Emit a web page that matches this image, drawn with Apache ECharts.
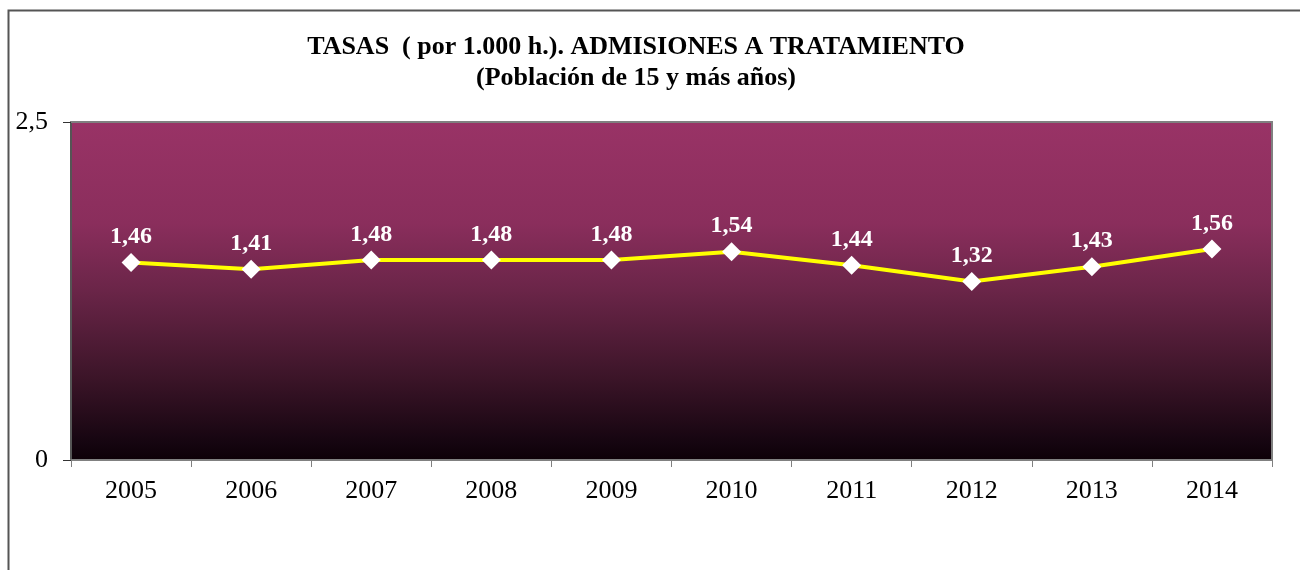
<!DOCTYPE html>
<html>
<head>
<meta charset="utf-8">
<title>Tasas de admisiones a tratamiento</title>
<script src="https://cdn.jsdelivr.net/npm/echarts@6/dist/echarts.min.js"></script>
<style>
  html, body { margin: 0; padding: 0; background: #ffffff; }
  #chart { width: 1300px; height: 570px; }
</style>
</head>
<body>
<div id="chart"></div>
<script>
// Tasas por 1.000 habitantes, población de 15 y más años
const years = ['2005', '2006', '2007', '2008', '2009', '2010', '2011', '2012', '2013', '2014'];
const rates = [1.46, 1.41, 1.48, 1.48, 1.48, 1.54, 1.44, 1.32, 1.43, 1.56];
const yTicks = [0, 2.5];

const serif = '"Liberation Serif", "DejaVu Serif", serif';
const fmt = v => String(v).replace('.', ',');

const chart = echarts.init(document.getElementById('chart'), null, { renderer: 'canvas' });

chart.setOption({
  animation: false,
  backgroundColor: '#ffffff',
  title: {
    text: 'TASAS  ( por 1.000 h.). ADMISIONES A TRATAMIENTO\n(Población de 15 y más años)',
    left: 631,
    textAlign: 'center',
    top: 27,
    textStyle: {
      fontFamily: serif,
      fontWeight: 'bold',
      fontSize: 26,
      lineHeight: 31,
      color: '#000000'
    }
  },
  graphic: [
    {
      // outer chart frame
      type: 'rect',
      silent: true,
      shape: { x: 8.5, y: 10.5, width: 1320, height: 600 },
      style: { fill: 'none', stroke: '#555555', lineWidth: 2 }
    },
    {
      // shadow edge on top and right of the plot area
      type: 'polyline',
      silent: true,
      z: 10,
      shape: { points: [[71, 122], [1272, 122], [1272, 460]] },
      style: { fill: 'none', stroke: '#808080', lineWidth: 2 }
    }
  ],
  grid: {
    left: 71,
    right: 28,
    top: 122,
    bottom: 110,
    show: true,
    borderWidth: 0,
    backgroundColor: {
      type: 'linear', x: 0, y: 0, x2: 0, y2: 1,
      colorStops: [
        { offset: 0, color: '#993366' },
        { offset: 0.3, color: '#8a2e5c' },
        { offset: 0.5, color: '#6a2548' },
        { offset: 0.75, color: '#3d1529' },
        { offset: 0.95, color: '#150510' },
        { offset: 1, color: '#0d0007' }
      ]
    }
  },
  xAxis: {
    type: 'category',
    data: years,
    boundaryGap: true,
    axisLine: { show: true, lineStyle: { color: '#808080', width: 2 } },
    axisTick: { show: true, alignWithLabel: false, length: 7, lineStyle: { color: '#808080', width: 1 } },
    axisLabel: {
      color: '#000000',
      fontFamily: serif,
      fontSize: 26,
      margin: 18
    },
    splitLine: { show: false }
  },
  yAxis: {
    type: 'value',
    min: yTicks[0],
    max: yTicks[yTicks.length - 1],
    interval: 2.5,
    axisLine: { show: true, lineStyle: { color: '#555555', width: 2 } },
    axisTick: { show: true, length: 8, lineStyle: { color: '#333333', width: 1 } },
    axisLabel: {
      color: '#000000',
      fontFamily: serif,
      fontSize: 26,
      margin: 23,
      formatter: v => fmt(v)
    },
    splitLine: { show: false }
  },
  series: [
    {
      type: 'line',
      data: rates,
      symbol: 'diamond',
      symbolSize: 19,
      lineStyle: { color: '#ffff00', width: 4 },
      itemStyle: { color: '#ffffff', borderColor: '#ffffff', borderWidth: 0 },
      label: {
        show: true,
        position: 'top',
        distance: 4,
        color: '#ffffff',
        fontFamily: serif,
        fontWeight: 'bold',
        fontSize: 24,
        formatter: p => fmt(p.value.toFixed(2))
      },
      z: 5
    }
  ]
});
</script>
</body>
</html>
